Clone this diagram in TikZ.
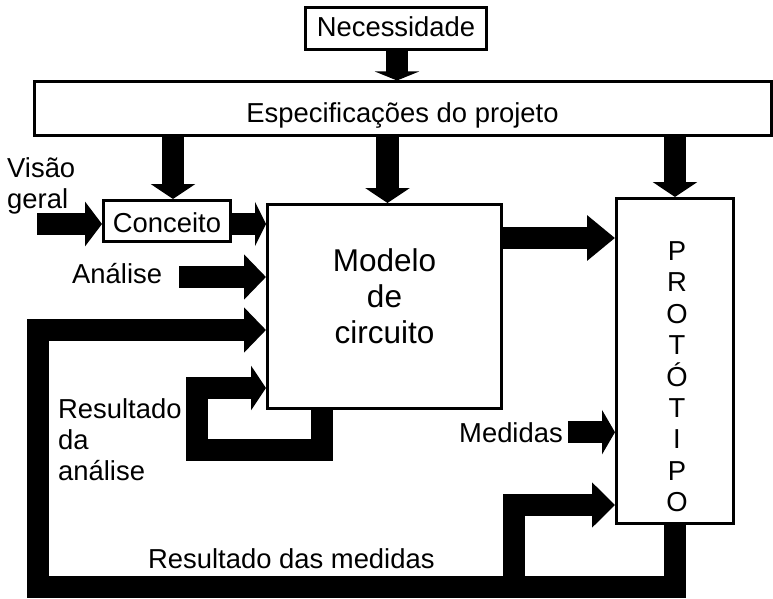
\documentclass[tikz,border=0pt]{standalone}
\usepackage{fontspec}
\setmainfont{Liberation Sans}
\usetikzlibrary{arrows.meta}
\begin{document}
\begin{tikzpicture}[x=1pt,y=-1pt,
  box/.style={draw,line width=3pt,fill=white,inner sep=0pt,text depth=0pt,
    font=\fontsize{27.4}{31}\selectfont},
  txt/.style={inner sep=0pt,font=\fontsize{27.4}{31}\selectfont},
  fat/.style={line width=22.5pt,line join=miter,line cap=butt,
    -{Triangle[width=44pt,length=#1]}},
  fat/.default=20pt
]
\useasboundingbox (0,0) rectangle (773,599);

% boxes
\node[box,minimum width=181pt,minimum height=42pt,text height=17pt] (nec) at (396,28.5) {Necessidade};
\node[box,minimum width=737pt,minimum height=53pt,text height=27pt] (espec) at (402.5,108.5) {Especificações do projeto};
\node[box,minimum width=127pt,minimum height=41pt,text height=22pt] (conc) at (167,221) {Conceito};
\node[box,minimum width=234pt,minimum height=204pt] (model) at (384.5,306.5) {};
\node[box,minimum width=117pt,minimum height=325pt] (proto) at (675,361) {};

% texts
\node[txt,anchor=north,align=center,font=\fontsize{31.5}{36}\selectfont] (mtxt) at (384.5,248.5) {Modelo\\de\\circuito};
\node[txt,anchor=north,align=center,font=\fontsize{27.4}{31.4}\selectfont] (ptxt) at (677,241.5) {P\\R\\O\\T\\Ó\\T\\I\\P\\O};
\node[txt,anchor=north west,align=left] (visao) at (7,157.5) {Visão\\geral};
\node[txt,anchor=base west] (ana) at (72,283) {Análise};
\node[txt,anchor=north west,align=left] (resan) at (58,398.5) {Resultado\\da\\análise};
\node[txt,anchor=base west] (med) at (459,442) {Medidas};
\node[txt,anchor=base west] (resmed) at (148,568) {Resultado das medidas};

% helper coordinates
\coordinate (cx) at (173,0);
\coordinate (nx) at (397,0);
\coordinate (mx) at (387.5,0);
\coordinate (vg) at (37,224);
\coordinate (an) at (179,277);
\coordinate (mp) at (503,238);
\coordinate (bl) at (38,587);
\coordinate (tl) at (38,330);
\coordinate (br) at (514,587);
\coordinate (brt) at (514,505);
\coordinate (il1) at (322,450);
\coordinate (il2) at (197,450);
\coordinate (il3) at (197,388);

% vertical arrows
\draw[fat=9pt] (nec.south -| nx) -- (espec.north -| nx);
\draw[fat=15pt] (espec.south -| cx) -- (conc.north -| cx);
\draw[fat=15pt] (espec.south -| mx) -- (model.north -| mx);
\draw[fat=15pt] (espec.south -| proto.north) -- (proto.north);

% horizontal arrows
\draw[fat=17pt] (vg) -- (vg -| conc.west);
\draw[fat=11pt] (conc.east |- vg) -- (vg -| model.west);
\draw[fat=22pt] (an) -- (an -| model.west);
\draw[fat=28pt] (mp) -- (mp -| proto.west);
\draw[fat=13pt] ([xshift=5pt]med.east) -- (med.east -| proto.west);

% feedback loops
\draw[fat=22pt] (proto.south) |- (bl) -- (tl) -- (tl -| model.west);
\draw[fat=23pt] (br) -- (brt) -- (brt -| proto.west);
\draw[fat=15pt] (model.south -| il1) -- (il1) -- (il2) -- (il3) -- (il3 -| model.west);
\end{tikzpicture}
\end{document}
